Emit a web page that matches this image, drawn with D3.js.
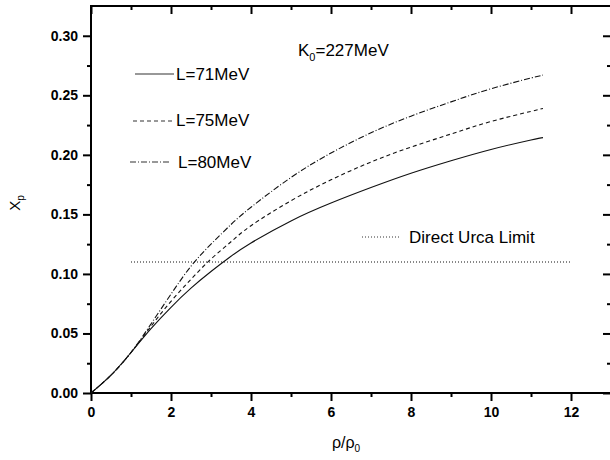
<!DOCTYPE html>
<html>
<head>
<meta charset="utf-8">
<script src="https://cdn.jsdelivr.net/npm/d3@7"></script>
<style>
  body { margin: 0; background: #fff; }
  svg { font-family: "Liberation Sans", Arial, sans-serif; }
  .tick-label { font-weight: bold; font-size: 14px; }
</style>
</head>
<body>
<div id="chart"></div>
<script>
// density ratio rho/rho0
const densities = [0, 0.5, 1, 1.5, 2, 2.5, 3, 3.5, 4, 5, 6, 7, 8, 9, 10, 11, 11.3];

// proton fraction for each L
const xpL71 = [0, 0.015, 0.034, 0.054, 0.072, 0.088, 0.102, 0.1148, 0.126, 0.1445, 0.1595, 0.1725, 0.1845, 0.195, 0.2045, 0.2125, 0.2145];
const xpL75 = [0, 0.015, 0.034, 0.056, 0.077, 0.0955, 0.1125, 0.127, 0.1405, 0.1615, 0.179, 0.194, 0.2065, 0.2175, 0.228, 0.2365, 0.239];
const xpL80 = [0, 0.015, 0.034, 0.058, 0.083, 0.1065, 0.125, 0.1415, 0.156, 0.181, 0.2015, 0.2185, 0.2325, 0.2445, 0.2555, 0.2645, 0.267];

const urcaLimit = 0.11;
const urcaRange = [1, 12];

const legendLabels = ["L=71MeV", "L=75MeV", "L=80MeV"];
const xTicks = [0, 2, 4, 6, 8, 10, 12];
const yTicks = [0, 0.05, 0.10, 0.15, 0.20, 0.25, 0.30];

const W = 610, H = 460;
const LEFT = 91, RIGHT = 611, TOP = 6, BOTTOM = 393;

const svg = d3.select("#chart").append("svg")
    .attr("width", W)
    .attr("height", H);

const x = d3.scaleLinear().domain([0, 13]).range([LEFT, RIGHT]);
const y = d3.scaleLinear().domain([0, 0.325]).range([BOTTOM, TOP]);

const minorX = d3.range(1, 13, 2);
const minorY = d3.range(0.025, 0.325, 0.05);

// bottom axis, ticks outward
svg.append("g")
    .attr("transform", "translate(0," + BOTTOM + ")")
    .call(d3.axisBottom(x).tickValues(xTicks).tickSize(8).tickPadding(6).tickFormat(d3.format("d")));
svg.append("g")
    .attr("transform", "translate(0," + BOTTOM + ")")
    .call(d3.axisBottom(x).tickValues(minorX).tickSize(4).tickFormat(""));

// left axis, ticks outward
svg.append("g")
    .attr("transform", "translate(" + LEFT + ",0)")
    .call(d3.axisLeft(y).tickValues(yTicks).tickSize(8).tickPadding(5).tickFormat(d3.format(".2f")));
svg.append("g")
    .attr("transform", "translate(" + LEFT + ",0)")
    .call(d3.axisLeft(y).tickValues(minorY).tickSize(4).tickFormat(""));

// top axis, ticks inward
svg.append("g")
    .attr("transform", "translate(0," + TOP + ")")
    .call(d3.axisBottom(x).tickValues(xTicks).tickSize(8).tickFormat(""));
svg.append("g")
    .attr("transform", "translate(0," + TOP + ")")
    .call(d3.axisBottom(x).tickValues(minorX).tickSize(4).tickFormat(""));

// right axis, ticks inward
svg.append("g")
    .attr("transform", "translate(" + RIGHT + ",0)")
    .call(d3.axisLeft(y).tickValues(yTicks).tickSize(8).tickFormat(""));
svg.append("g")
    .attr("transform", "translate(" + RIGHT + ",0)")
    .call(d3.axisLeft(y).tickValues(minorY).tickSize(4).tickFormat(""));

svg.selectAll(".domain").remove();
svg.selectAll(".tick line").attr("stroke", "#000").attr("stroke-width", 2);
svg.selectAll(".tick text")
    .attr("class", "tick-label")
    .attr("fill", "#000");

// frame
svg.append("rect")
    .attr("x", LEFT).attr("y", TOP)
    .attr("width", RIGHT - LEFT).attr("height", BOTTOM - TOP)
    .attr("fill", "none")
    .attr("stroke", "#000")
    .attr("stroke-width", 2);

const series = [
    {values: xpL71, dash: null},
    {values: xpL75, dash: "4,3"},
    {values: xpL80, dash: "6,2,1,2"}
];

const line = d3.line()
    .x(d => x(d[0]))
    .y(d => y(d[1]))
    .curve(d3.curveNatural);

const gLines = svg.append("g");
series.forEach((s) => {
    gLines.append("path")
        .datum(densities.map((d, i) => [d, s.values[i]]))
        .attr("d", line)
        .attr("fill", "none")
        .attr("stroke", "#111")
        .attr("stroke-width", 1.1)
        .attr("stroke-dasharray", s.dash);
});

// direct urca limit
gLines.append("line")
    .attr("x1", x(urcaRange[0])).attr("x2", x(urcaRange[1]))
    .attr("y1", y(urcaLimit)).attr("y2", y(urcaLimit))
    .attr("stroke", "#111")
    .attr("stroke-width", 1)
    .attr("stroke-dasharray", "1,2");

// legend
const legendRows = [
    {x1: 135, x2: 174, y: 74, tx: 176, ty: 79.5},
    {x1: 133, x2: 174, y: 121, tx: 176, ty: 126},
    {x1: 130, x2: 170, y: 162, tx: 178, ty: 168}
];
const gLegend = svg.append("g");
legendRows.forEach((r, i) => {
    gLegend.append("line")
        .attr("x1", r.x1).attr("x2", r.x2)
        .attr("y1", r.y).attr("y2", r.y)
        .attr("stroke", "#333")
        .attr("stroke-width", 1.1)
        .attr("stroke-dasharray", series[i].dash);
    gLegend.append("text")
        .attr("x", r.tx).attr("y", r.ty)
        .attr("font-size", 17)
        .text(legendLabels[i]);
});

gLegend.append("line")
    .attr("x1", 362).attr("x2", 400)
    .attr("y1", 237).attr("y2", 237)
    .attr("stroke", "#333")
    .attr("stroke-dasharray", "1,2");
gLegend.append("text")
    .attr("x", 409).attr("y", 243)
    .attr("font-size", 17)
    .text("Direct Urca Limit");

// K0 annotation
const k0 = svg.append("text")
    .attr("x", 298).attr("y", 56)
    .attr("font-size", 17);
k0.append("tspan").text("K");
k0.append("tspan").attr("font-size", 11).attr("dy", 5).text("0");
k0.append("tspan").attr("dy", -5).text("=227MeV");

// axis titles
const xt = svg.append("text")
    .attr("x", 346).attr("y", 448)
    .attr("text-anchor", "middle")
    .attr("font-size", 16);
xt.append("tspan").text("ρ/ρ");
xt.append("tspan").attr("font-size", 10).attr("dy", 4).text("0");

const yt = svg.append("text")
    .attr("transform", "translate(20,203) rotate(-90)")
    .attr("text-anchor", "middle")
    .attr("font-size", 15);
yt.append("tspan").text("X");
yt.append("tspan").attr("font-size", 10).attr("dy", 4).text("p");
</script>
</body>
</html>
